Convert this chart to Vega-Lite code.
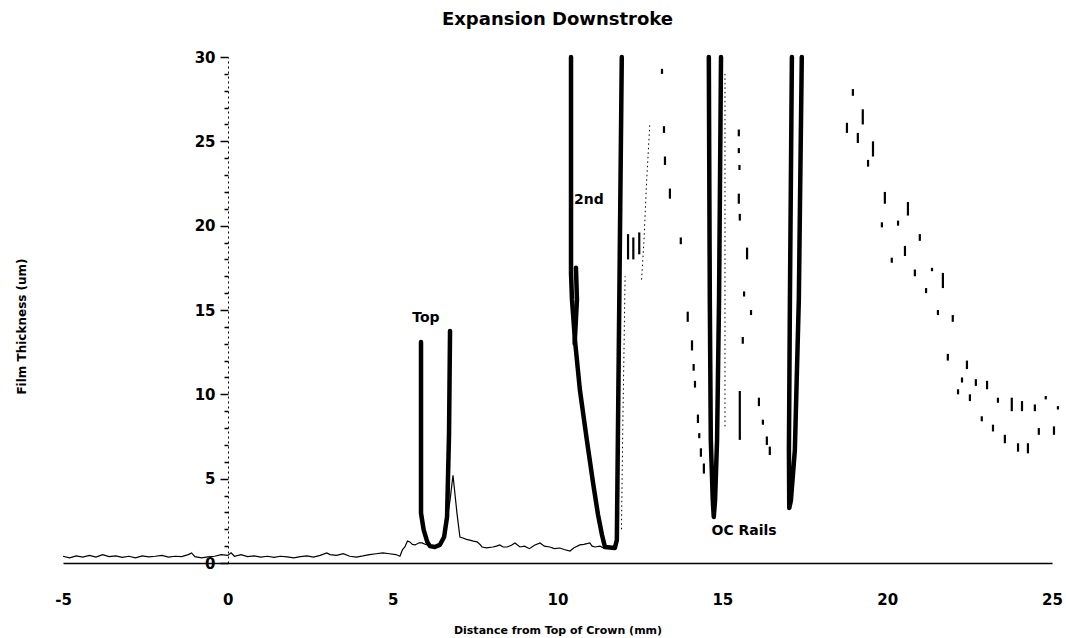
{
  "$schema": "https://vega.github.io/schema/vega-lite/v6.json",
  "width": 989,
  "height": 506,
  "autosize": {"type": "none"},
  "padding": {"left": 63, "top": 57, "right": 14, "bottom": 75},
  "background": "white",
  "title": {"text": "Expansion Downstroke", "font": "DejaVu Sans", "fontSize": 18, "fontWeight": "bold", "color": "black", "offset": 21, "anchor": "middle"},
  "config": {"view": {"stroke": null}},
  "datasets": {
    "trace": [
      {"x": -5, "y": 0.4}, {"x": -4.8, "y": 0.3}, {"x": -4.6, "y": 0.42}, {"x": -4.4, "y": 0.35}, {"x": -4.2, "y": 0.45},
      {"x": -4, "y": 0.35}, {"x": -3.8, "y": 0.5}, {"x": -3.6, "y": 0.38}, {"x": -3.4, "y": 0.42}, {"x": -3.2, "y": 0.33},
      {"x": -3, "y": 0.4}, {"x": -2.8, "y": 0.3}, {"x": -2.6, "y": 0.42}, {"x": -2.4, "y": 0.36}, {"x": -2.2, "y": 0.4},
      {"x": -2, "y": 0.45}, {"x": -1.8, "y": 0.35}, {"x": -1.6, "y": 0.4}, {"x": -1.4, "y": 0.38}, {"x": -1.2, "y": 0.5},
      {"x": -1.1, "y": 0.6}, {"x": -1, "y": 0.38}, {"x": -0.8, "y": 0.3}, {"x": -0.6, "y": 0.36}, {"x": -0.4, "y": 0.4},
      {"x": -0.2, "y": 0.5}, {"x": 0, "y": 0.45}, {"x": 0.1, "y": 0.6}, {"x": 0.2, "y": 0.4}, {"x": 0.4, "y": 0.5},
      {"x": 0.6, "y": 0.38}, {"x": 0.8, "y": 0.42}, {"x": 1, "y": 0.35}, {"x": 1.2, "y": 0.4}, {"x": 1.4, "y": 0.33},
      {"x": 1.6, "y": 0.4}, {"x": 1.8, "y": 0.36}, {"x": 2, "y": 0.3}, {"x": 2.2, "y": 0.38}, {"x": 2.4, "y": 0.42},
      {"x": 2.6, "y": 0.35}, {"x": 2.8, "y": 0.45}, {"x": 3, "y": 0.6}, {"x": 3.1, "y": 0.5}, {"x": 3.3, "y": 0.45},
      {"x": 3.5, "y": 0.55}, {"x": 3.7, "y": 0.4}, {"x": 3.9, "y": 0.35}, {"x": 4.1, "y": 0.42}, {"x": 4.3, "y": 0.5},
      {"x": 4.5, "y": 0.55}, {"x": 4.7, "y": 0.6}, {"x": 4.9, "y": 0.55}, {"x": 5.1, "y": 0.5}, {"x": 5.22, "y": 0.4},
      {"x": 5.3, "y": 0.8}, {"x": 5.37, "y": 0.95}, {"x": 5.45, "y": 1.3}, {"x": 5.52, "y": 1.25}, {"x": 5.6, "y": 1.1},
      {"x": 5.68, "y": 1.07}, {"x": 5.8, "y": 1.2}, {"x": 5.89, "y": 1.19}, {"x": 6.0, "y": 1.1}, {"x": 6.13, "y": 1.05},
      {"x": 6.3, "y": 1.0}, {"x": 6.43, "y": 1.0}, {"x": 6.59, "y": 1.78}, {"x": 6.74, "y": 3.73}, {"x": 6.83, "y": 5.2},
      {"x": 6.9, "y": 3.9}, {"x": 6.95, "y": 2.96}, {"x": 7.04, "y": 1.54}, {"x": 7.13, "y": 1.48}, {"x": 7.24, "y": 1.4},
      {"x": 7.34, "y": 1.36}, {"x": 7.45, "y": 1.3}, {"x": 7.56, "y": 1.25}, {"x": 7.65, "y": 1.1}, {"x": 7.71, "y": 0.95},
      {"x": 7.85, "y": 0.9}, {"x": 8.04, "y": 0.95}, {"x": 8.15, "y": 1.0}, {"x": 8.25, "y": 1.07}, {"x": 8.35, "y": 0.95},
      {"x": 8.47, "y": 0.95}, {"x": 8.6, "y": 1.05}, {"x": 8.71, "y": 1.19}, {"x": 8.86, "y": 0.95}, {"x": 9.0, "y": 1.0},
      {"x": 9.15, "y": 0.85}, {"x": 9.3, "y": 1.05}, {"x": 9.47, "y": 1.19}, {"x": 9.6, "y": 1.0}, {"x": 9.77, "y": 0.95},
      {"x": 9.9, "y": 0.85}, {"x": 10.07, "y": 0.89}, {"x": 10.2, "y": 0.8}, {"x": 10.38, "y": 0.71}, {"x": 10.5, "y": 0.9},
      {"x": 10.68, "y": 1.07}, {"x": 10.8, "y": 1.1}, {"x": 10.98, "y": 1.19}, {"x": 11.05, "y": 1.0}, {"x": 11.14, "y": 0.95},
      {"x": 11.29, "y": 1.0}, {"x": 11.44, "y": 0.85}
    ],
    "rings": [
      {"ring": "top", "i": 0, "x": 5.86, "y": 13.1}, {"ring": "top", "i": 1, "x": 5.86, "y": 7.0}, {"ring": "top", "i": 2, "x": 5.86, "y": 2.96},
      {"ring": "top", "i": 3, "x": 5.94, "y": 1.96}, {"ring": "top", "i": 4, "x": 6.05, "y": 1.25}, {"ring": "top", "i": 5, "x": 6.13, "y": 1.0},
      {"ring": "top", "i": 6, "x": 6.28, "y": 0.95}, {"ring": "top", "i": 7, "x": 6.43, "y": 1.07}, {"ring": "top", "i": 8, "x": 6.56, "y": 1.54},
      {"ring": "top", "i": 9, "x": 6.65, "y": 2.73}, {"ring": "top", "i": 10, "x": 6.71, "y": 7.7}, {"ring": "top", "i": 11, "x": 6.74, "y": 13.75},
      {"ring": "second", "i": 0, "x": 10.41, "y": 30}, {"ring": "second", "i": 1, "x": 10.41, "y": 17.2}, {"ring": "second", "i": 2, "x": 10.44, "y": 15.6},
      {"ring": "second", "i": 3, "x": 10.53, "y": 13.2}, {"ring": "second", "i": 4, "x": 10.68, "y": 10.25}, {"ring": "second", "i": 5, "x": 10.89, "y": 7.29},
      {"ring": "second", "i": 6, "x": 11.08, "y": 4.74}, {"ring": "second", "i": 7, "x": 11.23, "y": 2.85}, {"ring": "second", "i": 8, "x": 11.35, "y": 1.66},
      {"ring": "second", "i": 9, "x": 11.44, "y": 0.95}, {"ring": "second", "i": 10, "x": 11.74, "y": 0.89}, {"ring": "second", "i": 11, "x": 11.8, "y": 1.36},
      {"ring": "second", "i": 12, "x": 11.95, "y": 30},
      {"ring": "second-b", "i": 0, "x": 10.56, "y": 17.5}, {"ring": "second-b", "i": 1, "x": 10.59, "y": 15.6}, {"ring": "second-b", "i": 2, "x": 10.52, "y": 13.0},
      {"ring": "oc1", "i": 0, "x": 14.59, "y": 30}, {"ring": "oc1", "i": 1, "x": 14.62, "y": 15.6}, {"ring": "oc1", "i": 2, "x": 14.65, "y": 7.3},
      {"ring": "oc1", "i": 3, "x": 14.71, "y": 3.73}, {"ring": "oc1", "i": 4, "x": 14.74, "y": 2.73}, {"ring": "oc1", "i": 5, "x": 14.78, "y": 3.73},
      {"ring": "oc1", "i": 6, "x": 14.84, "y": 7.3}, {"ring": "oc1", "i": 7, "x": 14.9, "y": 15.6}, {"ring": "oc1", "i": 8, "x": 14.96, "y": 30},
      {"ring": "oc2", "i": 0, "x": 17.11, "y": 30}, {"ring": "oc2", "i": 1, "x": 17.05, "y": 15.6}, {"ring": "oc2", "i": 2, "x": 17.02, "y": 6.7},
      {"ring": "oc2", "i": 3, "x": 17.03, "y": 3.26}, {"ring": "oc2", "i": 4, "x": 17.08, "y": 3.7}, {"ring": "oc2", "i": 5, "x": 17.2, "y": 6.7},
      {"ring": "oc2", "i": 6, "x": 17.32, "y": 15.6}, {"ring": "oc2", "i": 7, "x": 17.41, "y": 30}
    ],
    "faint": [
      {"seg": "a", "i": 0, "x": 11.94, "y": 2.0}, {"seg": "a", "i": 1, "x": 11.98, "y": 8}, {"seg": "a", "i": 2, "x": 12.02, "y": 13}, {"seg": "a", "i": 3, "x": 12.05, "y": 17},
      {"seg": "b", "i": 0, "x": 12.55, "y": 16.8}, {"seg": "b", "i": 1, "x": 12.62, "y": 19}, {"seg": "b", "i": 2, "x": 12.7, "y": 22.5}, {"seg": "b", "i": 3, "x": 12.8, "y": 26},
      {"seg": "c", "i": 0, "x": 15.08, "y": 29}, {"seg": "c", "i": 1, "x": 15.08, "y": 20}, {"seg": "c", "i": 2, "x": 15.08, "y": 8}
    ],
    "dashes": [
      {"x": 12.14, "y": 18.0, "y2": 19.5}, {"x": 12.3, "y": 18.0, "y2": 19.3}, {"x": 12.48, "y": 18.3, "y2": 19.6},
      {"x": 13.17, "y": 29.0, "y2": 29.3}, {"x": 13.23, "y": 25.5, "y2": 25.9}, {"x": 13.26, "y": 23.6, "y2": 24.1}, {"x": 13.41, "y": 21.6, "y2": 22.2},
      {"x": 13.74, "y": 18.9, "y2": 19.3}, {"x": 13.95, "y": 14.3, "y2": 14.9}, {"x": 14.08, "y": 12.6, "y2": 13.2}, {"x": 14.13, "y": 11.4, "y2": 11.8},
      {"x": 14.17, "y": 10.4, "y2": 10.8}, {"x": 14.26, "y": 8.3, "y2": 8.8}, {"x": 14.3, "y": 7.4, "y2": 7.7}, {"x": 14.35, "y": 6.3, "y2": 6.8},
      {"x": 14.44, "y": 5.3, "y2": 5.9},
      {"x": 15.5, "y": 25.3, "y2": 25.7}, {"x": 15.5, "y": 24.3, "y2": 24.6}, {"x": 15.52, "y": 23.3, "y2": 23.6}, {"x": 15.5, "y": 21.3, "y2": 21.9},
      {"x": 15.53, "y": 20.3, "y2": 20.7}, {"x": 15.75, "y": 18.0, "y2": 18.7}, {"x": 15.66, "y": 15.8, "y2": 16.1}, {"x": 15.87, "y": 14.7, "y2": 15.0},
      {"x": 15.62, "y": 13.0, "y2": 13.4}, {"x": 15.53, "y": 7.3, "y2": 10.2}, {"x": 16.11, "y": 9.3, "y2": 9.8}, {"x": 16.23, "y": 8.2, "y2": 8.5},
      {"x": 16.35, "y": 7.0, "y2": 7.5}, {"x": 16.44, "y": 6.4, "y2": 6.9},
      {"x": 18.96, "y": 27.7, "y2": 28.1}, {"x": 19.26, "y": 26.0, "y2": 26.9}, {"x": 18.78, "y": 25.5, "y2": 26.1}, {"x": 19.11, "y": 24.9, "y2": 25.5},
      {"x": 19.57, "y": 24.1, "y2": 25.0}, {"x": 19.42, "y": 23.5, "y2": 23.9}, {"x": 19.93, "y": 21.3, "y2": 22.0}, {"x": 20.63, "y": 20.6, "y2": 21.4},
      {"x": 19.84, "y": 19.9, "y2": 20.2}, {"x": 20.33, "y": 20.0, "y2": 20.3}, {"x": 20.99, "y": 19.1, "y2": 19.5}, {"x": 20.54, "y": 18.2, "y2": 18.8},
      {"x": 20.14, "y": 17.8, "y2": 18.1}, {"x": 20.84, "y": 17.0, "y2": 17.4}, {"x": 21.36, "y": 17.3, "y2": 17.5}, {"x": 21.69, "y": 16.3, "y2": 17.2},
      {"x": 21.18, "y": 16.0, "y2": 16.3}, {"x": 21.54, "y": 14.7, "y2": 15.0}, {"x": 21.99, "y": 14.3, "y2": 14.7}, {"x": 21.84, "y": 12.0, "y2": 12.4},
      {"x": 22.42, "y": 11.5, "y2": 12.0}, {"x": 22.27, "y": 10.7, "y2": 11.0}, {"x": 22.15, "y": 10.0, "y2": 10.3}, {"x": 22.69, "y": 10.5, "y2": 10.9},
      {"x": 22.51, "y": 9.6, "y2": 10.0}, {"x": 23.03, "y": 10.3, "y2": 10.8}, {"x": 23.36, "y": 9.5, "y2": 9.8}, {"x": 22.87, "y": 8.4, "y2": 8.7},
      {"x": 23.78, "y": 9.0, "y2": 9.8}, {"x": 24.09, "y": 9.0, "y2": 9.6}, {"x": 24.48, "y": 9.0, "y2": 9.4}, {"x": 24.81, "y": 9.7, "y2": 9.9},
      {"x": 25.18, "y": 9.1, "y2": 9.3}, {"x": 23.21, "y": 7.8, "y2": 8.2}, {"x": 23.57, "y": 7.1, "y2": 7.6}, {"x": 23.97, "y": 6.6, "y2": 7.1},
      {"x": 24.27, "y": 6.5, "y2": 7.1}, {"x": 24.6, "y": 7.6, "y2": 8.0}, {"x": 25.06, "y": 7.6, "y2": 8.1}
    ],
    "labels": [
      {"x": 6.01, "y": 14.5, "text": "Top"},
      {"x": 10.95, "y": 21.5, "text": "2nd"},
      {"x": 15.66, "y": 1.9, "text": "OC Rails"}
    ]
  },
  "encoding": {
    "x": {"field": "x", "type": "quantitative", "scale": {"domain": [-5, 25], "nice": false, "zero": false},
      "axis": {"values": [-5, 0, 5, 10, 15, 20, 25], "ticks": false, "grid": false, "domainColor": "black", "domainWidth": 1.5,
        "labelExpr": "'' + datum.value",
        "labelFont": "DejaVu Sans", "labelFontSize": 15, "labelFontWeight": "bold", "labelColor": "black", "labelPadding": 29, "labelFlush": false,
        "title": "Distance from Top of Crown (mm)", "titleFont": "DejaVu Sans", "titleFontSize": 11, "titleFontWeight": "bold", "titleColor": "black", "titlePadding": 17}},
    "y": {"field": "y", "type": "quantitative", "scale": {"domain": [0, 30], "nice": false},
      "axis": {"values": [0,1,2,3,4,5,6,7,8,9,10,11,12,13,14,15,16,17,18,19,20,21,22,23,24,25,26,27,28,29,30],
        "offset": -165, "grid": false, "labelExpr": "datum.value % 5 === 0 ? '' + datum.value : ''",
        "domainColor": "black", "domainDash": [2, 3], "domainWidth": 1,
        "tickColor": "black", "tickWidth": 1.5, "tickSize": {"condition": {"test": "datum.value % 5 === 0", "value": 8}, "value": 4},
        "labelFont": "DejaVu Sans", "labelFontSize": 15, "labelFontWeight": "bold", "labelColor": "black", "labelPadding": 5, "labelOverlap": false,
        "title": "Film Thickness (um)", "titleX": -207, "titleY": 269, "titleAngle": -90, "titleBaseline": "middle", "titleAlign": "center",
        "titleFont": "DejaVu Sans", "titleFontSize": 12, "titleFontWeight": "bold", "titleColor": "black"}}
  },
  "layer": [
    {
      "data": {"name": "trace"},
      "mark": {"type": "line", "color": "black", "strokeWidth": 1.2}
    },
    {
      "data": {"name": "faint"},
      "mark": {"type": "line", "color": "black", "strokeWidth": 1, "strokeDash": [1.5, 3]},
      "encoding": {
        "detail": {"field": "seg", "type": "nominal"},
        "order": {"field": "i", "type": "quantitative"}
      }
    },
    {
      "data": {"name": "dashes"},
      "mark": {"type": "rule", "color": "black", "strokeWidth": 2.2},
      "encoding": {
        "y2": {"field": "y2"}
      }
    },
    {
      "data": {"name": "rings"},
      "mark": {"type": "line", "color": "black", "strokeWidth": 4.5, "strokeCap": "round", "strokeJoin": "round"},
      "encoding": {
        "detail": {"field": "ring", "type": "nominal"},
        "order": {"field": "i", "type": "quantitative"}
      }
    },
    {
      "data": {"name": "labels"},
      "mark": {"type": "text", "color": "black", "font": "DejaVu Sans", "fontSize": 14, "fontWeight": "bold", "align": "center", "baseline": "middle"},
      "encoding": {
        "text": {"field": "text", "type": "nominal"}
      }
    }
  ]
}
